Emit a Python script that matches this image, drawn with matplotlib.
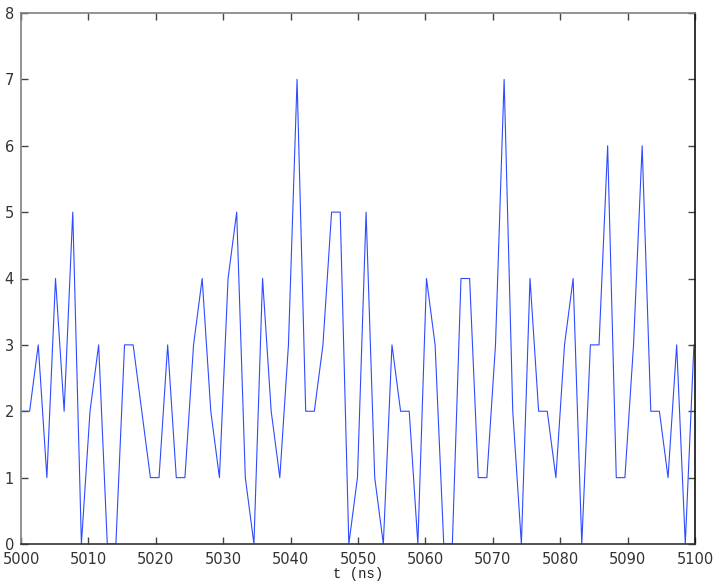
import matplotlib
matplotlib.use("Agg")
import matplotlib.pyplot as plt
import numpy as np

t_start = 5000.0
dt = 1.28
counts = [2, 2, 3, 1, 4, 2, 5, 0, 2, 3,
          0, 0, 3, 3, 2, 1, 1, 3, 1, 1,
          3, 4, 2, 1, 4, 5, 1, 0, 4, 2,
          1, 3, 7, 2, 2, 3, 5, 5, 0, 1,
          5, 1, 0, 3, 2, 2, 0, 4, 3, 0,
          0, 4, 4, 1, 1, 3, 7, 2, 0, 4,
          2, 2, 1, 3, 4, 0, 3, 3, 6, 1,
          1, 3, 6, 2, 2, 1, 3, 0, 3]
t = t_start + dt * np.arange(len(counts))

xticks = [5000, 5010, 5020, 5030, 5040, 5050, 5060, 5070, 5080, 5090, 5100]
yticks = [0, 1, 2, 3, 4, 5, 6, 7, 8]

fig = plt.figure(figsize=(7.2, 5.84), dpi=100)
ax = fig.add_axes([21/720, 1 - 544/584, (695 - 21)/720, (544 - 13)/584])
ax.plot(t, counts, color='#2e4bff', linewidth=0.8)
ax.set_xlim(5000, 5100)
ax.set_ylim(0, 8)
ax.set_xticks(xticks)
ax.set_yticks(yticks)
ax.tick_params(direction='in', top=True, right=True, length=5, width=1,
               color='#444444', labelsize=10.5)
ax.tick_params(axis='x', pad=6)
ax.tick_params(axis='y', pad=5)
for lbl in ax.get_xticklabels() + ax.get_yticklabels():
    lbl.set_color('#333333')
ax.spines['left'].set_color('#808080')
ax.spines['top'].set_color('#808080')
ax.spines['bottom'].set_color('#333333')
ax.spines['right'].set_color('#111111')
for s in ax.spines.values():
    s.set_linewidth(1.2)
ax.set_xlabel('t (ns)', family='Liberation Mono', fontsize=10, labelpad=0, color='#222222')
fig.savefig('out.png', dpi=100)
